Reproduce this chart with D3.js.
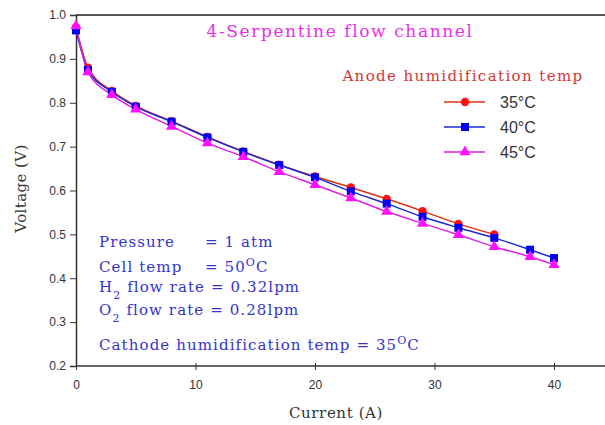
<!DOCTYPE html>
<html>
<head>
<meta charset="utf-8">
<script src="https://cdn.jsdelivr.net/npm/d3@7"></script>
<style>
  body { margin: 0; background: #fff; }
  svg { display: block; }
</style>
</head>
<body>
<script>
const current = [0, 1, 3, 5, 8, 11, 14, 17, 20, 23, 26, 29, 32, 35, 38, 40];
const v35 = [0.972, 0.88, 0.827, 0.793, 0.758, 0.722, 0.689, 0.659, 0.632, 0.607, 0.581, 0.553, 0.524, 0.500];
const v40 = [0.965, 0.875, 0.825, 0.791, 0.757, 0.721, 0.688, 0.658, 0.630, 0.598, 0.570, 0.540, 0.515, 0.492, 0.465, 0.446];
const v45 = [0.975, 0.870, 0.818, 0.785, 0.746, 0.708, 0.677, 0.643, 0.613, 0.583, 0.552, 0.525, 0.499, 0.472, 0.449, 0.431];
const yTicks = [0.2, 0.3, 0.4, 0.5, 0.6, 0.7, 0.8, 0.9, 1.0];
const xTicks = [0, 10, 20, 30, 40];

const series = [
  { name: "35", values: v35, color: "#ff1010", line: "#e03010", shape: "circle" },
  { name: "40", values: v40, color: "#0000f0", line: "#1a2ad0", shape: "square" },
  { name: "45", values: v45, color: "#ff10ff", line: "#e020e0", shape: "triangle" }
];

const width = 605, height = 425;
const margin = { left: 76, top: 15, right: 0, bottom: 59 };
const serif = "DejaVu Serif, serif";
const sans = "Liberation Sans, Arial, sans-serif";

const svg = d3.select("body").append("svg")
  .attr("width", width)
  .attr("height", height);

const x = d3.scaleLinear().domain([0, 44]).range([margin.left, margin.left + 44 * 11.95]);
const y = d3.scaleLinear().domain([0.2, 1.0]).range([height - margin.bottom, margin.top]);

// frame top line
svg.append("line")
  .attr("x1", margin.left).attr("x2", width)
  .attr("y1", y(1.0)).attr("y2", y(1.0))
  .attr("stroke", "#555").attr("stroke-width", 2);

const xAxis = svg.append("g")
  .attr("transform", `translate(0,${y(0.2)})`)
  .call(d3.axisBottom(x).tickValues(xTicks).tickSize(5).tickPadding(9).tickFormat(d3.format("d")));
xAxis.select(".domain").attr("stroke", "#333").attr("stroke-width", 1.5).attr("d", `M${margin.left},0H${width}`);
xAxis.selectAll(".tick line").attr("stroke", "#333").attr("y1", -3).attr("y2", 4);
xAxis.selectAll("text").attr("font-family", sans).attr("font-size", 12).attr("fill", "#333");

const yAxis = svg.append("g")
  .attr("transform", `translate(${margin.left},0)`)
  .call(d3.axisLeft(y).tickValues(yTicks).tickSize(6).tickPadding(4).tickFormat(d3.format(".1f")));
yAxis.select(".domain").attr("stroke", "#333").attr("stroke-width", 1.5);
yAxis.selectAll(".tick line").attr("stroke", "#333");
yAxis.selectAll("text").attr("font-family", sans).attr("font-size", 12).attr("fill", "#333");

svg.append("text")
  .attr("x", 336).attr("y", 418)
  .attr("text-anchor", "middle")
  .attr("font-family", serif).attr("font-size", 15).attr("letter-spacing", 0.6).attr("fill", "#333")
  .text("Current (A)");

svg.append("text")
  .attr("transform", `translate(26,${y(0.6) - 2}) rotate(-90)`)
  .attr("text-anchor", "middle")
  .attr("font-family", serif).attr("font-size", 15).attr("letter-spacing", 0.4).attr("fill", "#333")
  .text("Voltage (V)");

const line = d3.line().x((d, i) => x(current[i])).y(d => y(d)).curve(d3.curveMonotoneX);

const symbols = { circle: d3.symbolCircle, square: d3.symbolSquare, triangle: d3.symbolTriangle };
const symSize = { circle: 55, square: 64, triangle: 55 };

series.forEach(s => {
  svg.append("path")
    .datum(s.values)
    .attr("fill", "none")
    .attr("stroke", s.line)
    .attr("stroke-width", 1.5)
    .attr("d", line);
});
series.forEach(s => {
  svg.append("g").selectAll("path")
    .data(s.values)
    .join("path")
    .attr("transform", (d, i) => `translate(${x(current[i])},${y(d)})`)
    .attr("d", d3.symbol().type(symbols[s.shape]).size(symSize[s.shape]))
    .attr("fill", s.color);
});

// title
svg.append("text")
  .attr("x", 340).attr("y", 37)
  .attr("text-anchor", "middle")
  .attr("font-family", serif).attr("font-size", 17).attr("letter-spacing", 1.6).attr("fill", "#e830e8")
  .text("4-Serpentine flow channel");

// legend
svg.append("text")
  .attr("x", 463).attr("y", 81)
  .attr("text-anchor", "middle")
  .attr("font-family", serif).attr("font-size", 15).attr("letter-spacing", 1.4).attr("fill", "#d03838")
  .text("Anode humidification temp");

const legend = svg.append("g").selectAll("g")
  .data(series)
  .join("g")
  .attr("transform", (d, i) => `translate(444,${102 + i * 25})`);
legend.append("line")
  .attr("x1", 0).attr("x2", 41)
  .attr("stroke", d => d.line).attr("stroke-width", 1.5);
legend.append("path")
  .attr("transform", "translate(21,0)")
  .attr("d", d => d3.symbol().type(symbols[d.shape]).size(symSize[d.shape])())
  .attr("fill", d => d.color);
legend.append("text")
  .attr("x", 56).attr("y", 6)
  .attr("font-family", sans).attr("font-size", 16).attr("fill", "#333")
  .text(d => d.name + "°C");

// operating conditions
const blue = "#3434c8";
const ann = svg.append("g")
  .attr("font-family", serif).attr("font-size", 15).attr("letter-spacing", 1.1).attr("fill", blue);

function row(yy, parts) {
  const t = ann.append("text").attr("x", 99).attr("y", yy);
  parts.forEach(p => {
    const ts = t.append("tspan").text(p.t);
    if (p.x != null) ts.attr("x", p.x);
    if (p.sub) ts.attr("baseline-shift", "sub").attr("font-size", 11);
    if (p.sup) ts.attr("baseline-shift", "super").attr("font-size", 11);
  });
}
row(247, [{ t: "Pressure" }, { t: "= 1 atm", x: 205 }]);
row(272, [{ t: "Cell temp" }, { t: "= 50", x: 205 }, { t: "O", sup: true }, { t: "C" }]);
row(292, [{ t: "H" }, { t: "2", sub: true }, { t: " flow rate = 0.32lpm" }]);
row(315, [{ t: "O" }, { t: "2", sub: true }, { t: " flow rate = 0.28lpm" }]);
row(350, [{ t: "Cathode humidification temp = 35" }, { t: "O", sup: true }, { t: "C" }]);
</script>
</body>
</html>
